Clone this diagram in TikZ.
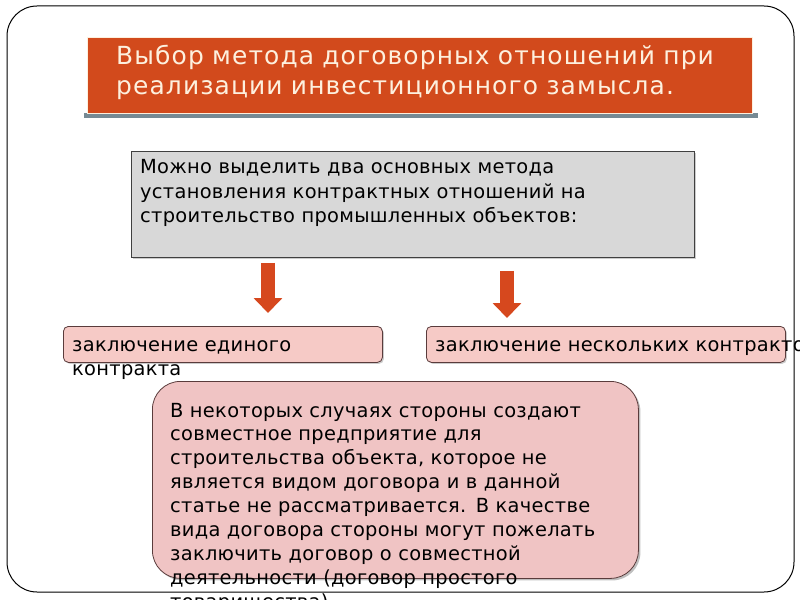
\documentclass[tikz,border=0pt]{standalone}
\usepackage{fontspec}
\setmainfont[LetterSpace=1.5]{DejaVu Sans}
\newfontfamily\titlefont[LetterSpace=4.5]{DejaVu Sans}
\usetikzlibrary{arrows.meta,shadows,positioning}
\definecolor{titlered}{RGB}{210,74,28}
\definecolor{titleshade}{RGB}{118,138,148}
\definecolor{titleink}{RGB}{253,240,222}
\definecolor{introgray}{RGB}{216,216,216}
\definecolor{choicepink}{RGB}{246,202,198}
\definecolor{notepink}{RGB}{240,196,196}
\definecolor{boxedge}{RGB}{90,60,60}
\definecolor{arrowred}{RGB}{214,72,30}
\tikzset{
  box/.style={anchor=north west, inner sep=0pt, draw=boxedge, line width=0.8bp},
  txt/.style={anchor=base west, inner sep=0pt, align=left, font=\fontsize{19.5}{24.5}\selectfont},
  blockarrow/.style={draw=arrowred, line width=14bp, -{Triangle[width=28bp,length=15bp]}},
}
\begin{document}
\begin{tikzpicture}[x=1bp,y=-1bp]
  \useasboundingbox (0,0) rectangle (800,600);
  \fill[titleshade] (84,113) rectangle (758,118);
  \node[anchor=north west, inner sep=0pt, fill=titlered, draw=titleink, line width=1bp,
        minimum width=665bp, minimum height=76bp] (title) at (87,37) {};
  \node[txt, text width=640bp, text=titleink, font=\titlefont\fontsize{25}{30}\selectfont] at (116,65)
    {Выбор метода договорных отношений при\\реализации инвестиционного замысла.};
  \node[box, fill=introgray, draw=black!75, drop shadow={shadow xshift=2bp, shadow yshift=-2bp, opacity=.4},
        minimum width=563bp, minimum height=106bp] (intro) at (131,151) {};
  \node[txt, text width=550bp] at (140,174)
    {Можно выделить два основных метода\\установления контрактных отношений на\\строительство промышленных объектов:};
  \node[box, fill=choicepink, rounded corners=5bp, drop shadow={shadow xshift=1.5bp, shadow yshift=-1.5bp, opacity=.4},
        minimum width=319bp, minimum height=36bp] (single) at (63,326) {};
  \node[txt, text width=320bp] at (72,351) {заключение единого\\контракта};
  \node[box, fill=choicepink, rounded corners=5bp, drop shadow={shadow xshift=1.5bp, shadow yshift=-1.5bp, opacity=.4},
        minimum width=359bp, minimum height=36bp] (multi) at (426,326) {};
  \node[txt, text width=420bp] at (435,351) {заключение нескольких контрактов};
  \node[box, fill=notepink, rounded corners=28bp, drop shadow={shadow xshift=2bp, shadow yshift=-2bp, opacity=.5},
        minimum width=486bp, minimum height=197bp] (note) at (152,381) {};
  \node[txt, text width=470bp, font=\fontsize{19.5}{24}\selectfont] at (170,417)
    {В некоторых случаях стороны создают\\совместное предприятие для\\строительства объекта, которое не\\является видом договора и в данной\\статье не рассматривается. В качестве\\вида договора стороны могут пожелать\\заключить договор о совместной\\деятельности (договор простого\\товарищества)};
  \coordinate (a1) at (268,0);
  \coordinate (a2) at (507,0);
  \draw[blockarrow, shorten <=5bp, shorten >=13bp] (a1 |- intro.south) -- (a1 |- single.north);
  \draw[blockarrow, shorten <=13bp, shorten >=8bp] (a2 |- intro.south) -- (a2 |- multi.north);
  \draw[line width=1bp, rounded corners=30bp] (7,6) rectangle (794,592);
\end{tikzpicture}
\end{document}
